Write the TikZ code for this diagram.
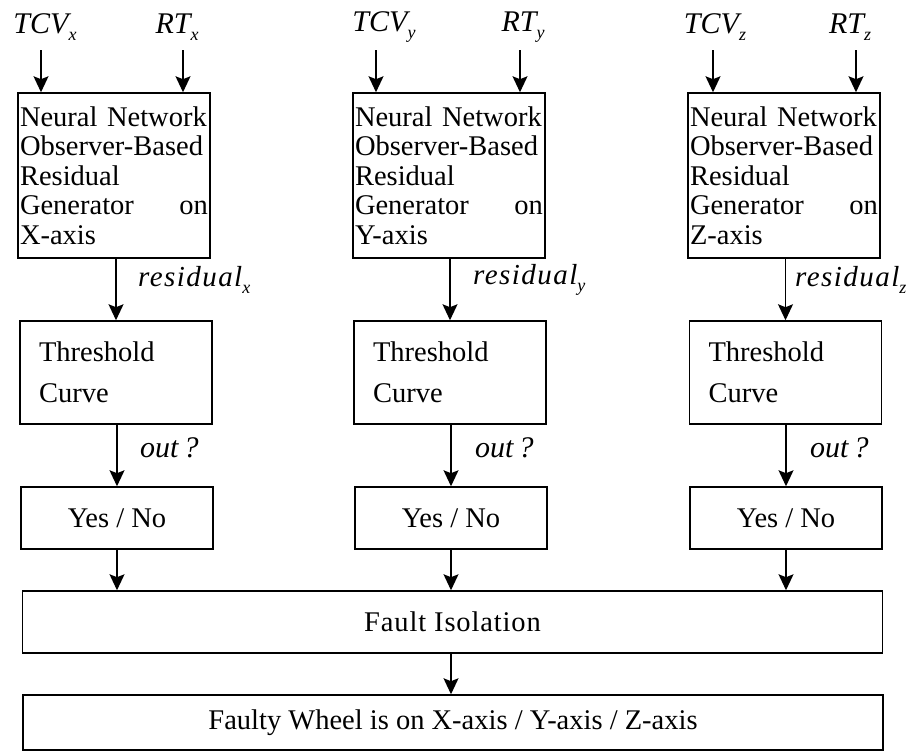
\documentclass[tikz,border=0pt]{standalone}
\usepackage{fontspec}
\setmainfont{Liberation Serif}
\usetikzlibrary{arrows.meta}
\newcommand{\sublbl}[1]{\raisebox{-0.5ex}{\fontsize{18}{18}\selectfont\textit{#1}}}
\begin{document}
\begin{tikzpicture}[x=1pt,y=-1pt,
  every node/.style={font=\fontsize{28.5}{30}\selectfont},
  box/.style={draw, line width=1.5pt, rectangle},
  nnbox/.style={box, inner xsep=2pt, inner ysep=0pt, minimum height=165pt, text width=188pt, align=left, font=\fontsize{28.5}{29.5}\selectfont},
  thbox/.style={box, inner xsep=19pt, inner ysep=0pt, minimum height=103pt, text width=154pt, align=left, font=\fontsize{28.5}{41}\selectfont},
  ynbox/.style={box, inner sep=0pt, minimum width=192pt, minimum height=62pt},
  widebox/.style={box, inner sep=0pt, minimum width=860pt},
  lbl/.style={inner sep=0pt, font=\fontsize{30}{32}\selectfont\itshape},
  rlbl/.style={lbl, anchor=west, font=\fontsize{29}{30}\selectfont\itshape\addfontfeature{LetterSpace=5}},
  arr/.style={line width=1.4pt, -{Stealth[length=16pt,width=15pt,inset=3pt]}}
]
\useasboundingbox (0,0) rectangle (913,753);

% column 1
\node[nnbox] (nn1) at (114,175.5) {\mbox{Neural Network}\\Observer-Based\\Residual\\Generator\hfill on\\X-axis};
\node[thbox] (th1) at (116,372.5) {Threshold\\Curve};
\node[ynbox] (yn1) at (117,518) {Yes / No};
\node[lbl] (tcv1) at (45,27) {TCV\sublbl{x}};
\node[lbl] (rt1) at (177,27) {RT\sublbl{x}};
\coordinate (ta1) at (41,50);
\coordinate (tb1) at (183,50);
\draw[arr] (ta1) -- (ta1 |- nn1.north);
\draw[arr] (tb1) -- (tb1 |- nn1.north);
\draw[arr] (nn1.south -| th1.north) -- (th1.north);
\draw[arr] (th1.south -| yn1.north) -- (yn1.north);
\node[rlbl] (res1) at (138,280) {residual\sublbl{x}};
\node[lbl, anchor=west] (out1) at (140,448) {out\,?};

% column 2
\node[nnbox] (nn2) at (449,175.5) {\mbox{Neural Network}\\Observer-Based\\Residual\\Generator\hfill on\\Y-axis};
\node[thbox] (th2) at (450,372.5) {Threshold\\Curve};
\node[ynbox] (yn2) at (451,518) {Yes / No};
\node[lbl] (tcv2) at (384,27) {TCV\sublbl{y}};
\node[lbl] (rt2) at (523,27) {RT\sublbl{y}};
\coordinate (ta2) at (376,50);
\coordinate (tb2) at (520,50);
\draw[arr] (ta2) -- (ta2 |- nn2.north);
\draw[arr] (tb2) -- (tb2 |- nn2.north);
\draw[arr] (nn2.south -| th2.north) -- (th2.north);
\draw[arr] (th2.south -| yn2.north) -- (yn2.north);
\node[rlbl] (res2) at (473,280) {residual\sublbl{y}};
\node[lbl, anchor=west] (out2) at (475,448) {out\,?};

% column 3
\node[nnbox] (nn3) at (784,175.5) {\mbox{Neural Network}\\Observer-Based\\Residual\\Generator\hfill on\\Z-axis};
\node[thbox] (th3) at (785.5,372.5) {Threshold\\Curve};
\node[ynbox] (yn3) at (786,518) {Yes / No};
\node[lbl] (tcv3) at (715,27) {TCV\sublbl{z}};
\node[lbl] (rt3) at (850,27) {RT\sublbl{z}};
\coordinate (ta3) at (713,50);
\coordinate (tb3) at (856,50);
\draw[arr] (ta3) -- (ta3 |- nn3.north);
\draw[arr] (tb3) -- (tb3 |- nn3.north);
\draw[arr] (nn3.south -| th3.north) -- (th3.north);
\draw[arr] (th3.south -| yn3.north) -- (yn3.north);
\node[rlbl] (res3) at (795,280) {residual\sublbl{z}};
\node[lbl, anchor=west] (out3) at (810,448) {out\,?};

% bottom
\node[widebox, minimum height=62pt, font=\fontsize{28.5}{30}\selectfont\addfontfeature{LetterSpace=3}] (fi) at (452.5,622) {Fault Isolation};
\node[widebox, minimum height=55pt] (fw) at (453,722.5) {Faulty Wheel is on X-axis / Y-axis / Z-axis};
\draw[arr] (yn1.south) -- (yn1.south |- fi.north);
\draw[arr] (yn2.south) -- (yn2.south |- fi.north);
\draw[arr] (yn3.south) -- (yn3.south |- fi.north);
\draw[arr] (fi.south -| yn2.south) -- (yn2.south |- fw.north);
\end{tikzpicture}
\end{document}
